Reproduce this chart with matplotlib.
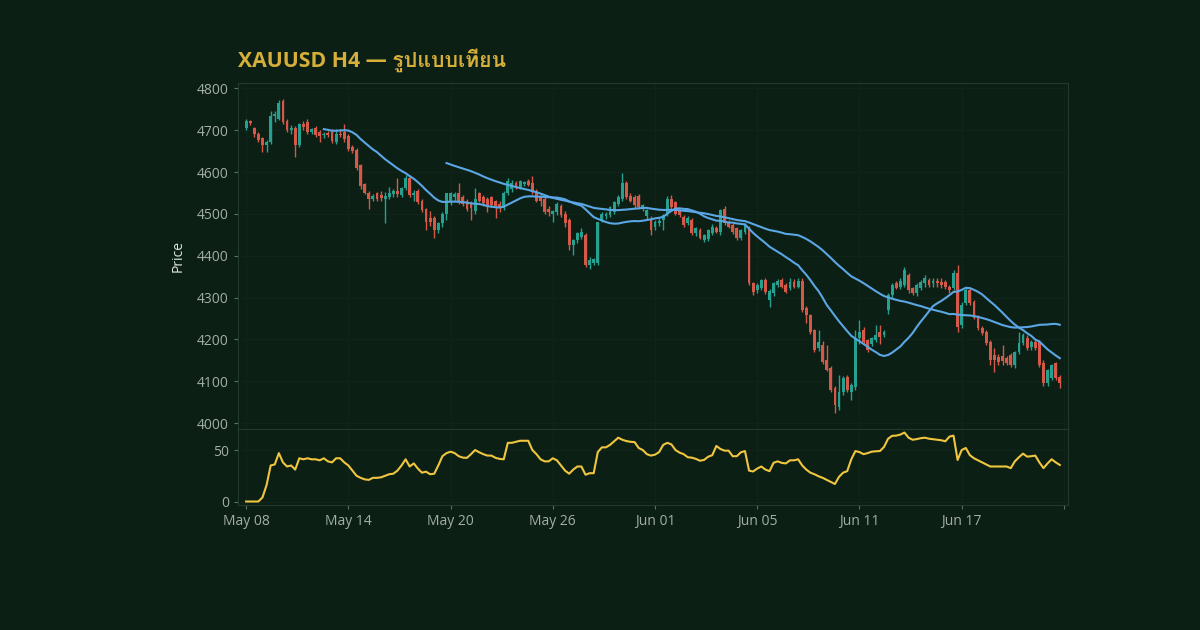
import matplotlib

matplotlib.use("Agg")
import matplotlib.pyplot as plt
import numpy as np
import pandas as pd
from matplotlib import font_manager
from matplotlib.ft2font import FT2Font

# H4 bars, index 0 = first bar of May 08
OPEN = [4705, 4722, 4705, 4692, 4681, 4664, 4673, 4734, 4728, 4771,
        4723, 4700, 4705, 4664, 4714, 4719, 4695, 4705, 4695, 4688,
        4694, 4697, 4672, 4692, 4696, 4687, 4660, 4654, 4616, 4571,
        4551, 4537, 4549, 4545, 4536, 4540, 4548, 4556, 4545, 4561,
        4585, 4545, 4556, 4532, 4511, 4490, 4490, 4461, 4478, 4501,
        4528, 4540, 4549, 4540, 4532, 4525, 4506, 4549, 4540, 4535,
        4540, 4530, 4525, 4515, 4550, 4560, 4574, 4565, 4572, 4578,
        4573, 4556, 4540, 4537, 4512, 4500, 4504, 4520, 4501, 4485,
        4425, 4437, 4446, 4449, 4378, 4382, 4384, 4485, 4495, 4497,
        4504, 4525, 4537, 4573, 4544, 4540, 4544, 4514, 4494, 4485,
        4470, 4478, 4485, 4500, 4537, 4528, 4509, 4492, 4478, 4485,
        4454, 4461, 4437, 4440, 4454, 4466, 4456, 4513, 4478, 4473,
        4466, 4442, 4456, 4466, 4334, 4318, 4322, 4342, 4294, 4310,
        4330, 4342, 4330, 4322, 4337, 4325, 4341, 4275, 4258, 4222,
        4180, 4186, 4150, 4131, 4084, 4038, 4074, 4110, 4075, 4086,
        4203, 4222, 4198, 4190, 4198, 4217, 4210, 4270, 4306, 4334,
        4325, 4330, 4353, 4322, 4310, 4322, 4335, 4342, 4334, 4339,
        4337, 4337, 4325, 4322, 4358, 4234, 4287, 4318, 4289, 4253,
        4227, 4217, 4193, 4162, 4158, 4160, 4155, 4162, 4138, 4169,
        4191, 4203, 4181, 4193, 4193, 4145, 4096, 4107, 4143, 4110]
HIGH = [4726, 4725, 4708, 4695, 4684, 4676, 4747, 4745, 4773, 4776,
        4728, 4712, 4710, 4718, 4722, 4727, 4706, 4710, 4700, 4696,
        4698, 4702, 4702, 4702, 4716, 4692, 4664, 4658, 4620, 4574,
        4556, 4548, 4552, 4556, 4552, 4565, 4560, 4585, 4565, 4592,
        4592, 4558, 4560, 4536, 4515, 4506, 4494, 4482, 4504, 4551,
        4552, 4552, 4573, 4545, 4537, 4530, 4561, 4553, 4545, 4540,
        4544, 4534, 4530, 4555, 4585, 4582, 4580, 4582, 4580, 4583,
        4590, 4560, 4545, 4540, 4518, 4510, 4528, 4525, 4508, 4490,
        4440, 4458, 4466, 4455, 4398, 4395, 4482, 4505, 4504, 4520,
        4532, 4545, 4597, 4580, 4550, 4545, 4548, 4525, 4512, 4495,
        4485, 4490, 4500, 4542, 4545, 4532, 4512, 4497, 4496, 4490,
        4470, 4466, 4452, 4465, 4475, 4472, 4512, 4518, 4485, 4478,
        4470, 4465, 4478, 4472, 4338, 4335, 4345, 4348, 4320, 4338,
        4345, 4348, 4335, 4346, 4345, 4346, 4346, 4280, 4262, 4226,
        4222, 4196, 4186, 4136, 4090, 4115, 4112, 4115, 4095, 4222,
        4246, 4230, 4202, 4205, 4234, 4234, 4222, 4310, 4335, 4340,
        4346, 4373, 4360, 4326, 4335, 4342, 4353, 4348, 4346, 4346,
        4346, 4342, 4330, 4365, 4377, 4290, 4322, 4325, 4294, 4258,
        4232, 4222, 4198, 4180, 4165, 4186, 4160, 4168, 4172, 4217,
        4215, 4210, 4198, 4198, 4198, 4150, 4130, 4142, 4147, 4115]
LOW = [4700, 4712, 4685, 4672, 4648, 4648, 4668, 4720, 4725, 4715,
       4695, 4690, 4636, 4660, 4700, 4690, 4690, 4684, 4672, 4682,
       4684, 4670, 4668, 4684, 4672, 4650, 4646, 4606, 4560, 4548,
       4513, 4530, 4532, 4530, 4478, 4535, 4540, 4540, 4540, 4558,
       4540, 4532, 4524, 4505, 4461, 4472, 4442, 4455, 4470, 4485,
       4522, 4530, 4524, 4520, 4508, 4485, 4500, 4528, 4520, 4505,
       4516, 4490, 4505, 4510, 4545, 4552, 4560, 4560, 4566, 4566,
       4548, 4528, 4520, 4500, 4496, 4482, 4498, 4493, 4470, 4415,
       4401, 4430, 4440, 4373, 4368, 4377, 4377, 4480, 4488, 4492,
       4500, 4520, 4532, 4535, 4528, 4515, 4512, 4508, 4488, 4449,
       4462, 4472, 4461, 4496, 4510, 4498, 4492, 4470, 4474, 4450,
       4448, 4440, 4432, 4436, 4450, 4455, 4450, 4474, 4466, 4452,
       4438, 4438, 4452, 4330, 4306, 4312, 4318, 4308, 4278, 4305,
       4325, 4322, 4310, 4318, 4322, 4322, 4266, 4239, 4212, 4170,
       4172, 4142, 4124, 4075, 4024, 4032, 4068, 4075, 4055, 4080,
       4190, 4190, 4170, 4185, 4194, 4190, 4205, 4262, 4300, 4320,
       4320, 4325, 4312, 4306, 4305, 4318, 4325, 4325, 4325, 4325,
       4322, 4320, 4312, 4318, 4217, 4228, 4282, 4282, 4248, 4222,
       4210, 4186, 4139, 4122, 4140, 4140, 4138, 4134, 4132, 4165,
       4186, 4175, 4175, 4175, 4134, 4090, 4090, 4102, 4102, 4084]
CLOSE = [4722, 4718, 4690, 4676, 4666, 4672, 4734, 4738, 4766, 4719,
         4700, 4706, 4664, 4714, 4708, 4695, 4702, 4688, 4686, 4692,
         4688, 4675, 4690, 4688, 4680, 4656, 4650, 4611, 4568, 4551,
         4537, 4543, 4537, 4538, 4542, 4550, 4554, 4548, 4561, 4585,
         4545, 4550, 4528, 4509, 4480, 4480, 4461, 4478, 4501, 4549,
         4549, 4547, 4530, 4523, 4513, 4515, 4537, 4532, 4527, 4520,
         4522, 4520, 4515, 4550, 4578, 4574, 4566, 4578, 4576, 4570,
         4552, 4532, 4530, 4504, 4505, 4508, 4525, 4497, 4478, 4425,
         4437, 4454, 4457, 4377, 4389, 4392, 4480, 4501, 4501, 4516,
         4528, 4540, 4573, 4540, 4532, 4521, 4516, 4521, 4509, 4461,
         4481, 4484, 4497, 4537, 4516, 4501, 4497, 4473, 4490, 4454,
         4466, 4442, 4449, 4461, 4468, 4458, 4509, 4478, 4470, 4456,
         4442, 4461, 4473, 4334, 4313, 4330, 4342, 4313, 4316, 4334,
         4341, 4325, 4313, 4337, 4325, 4339, 4270, 4258, 4217, 4174,
         4195, 4146, 4127, 4079, 4043, 4074, 4107, 4079, 4091, 4203,
         4217, 4193, 4174, 4203, 4210, 4205, 4217, 4306, 4330, 4323,
         4341, 4365, 4318, 4310, 4330, 4337, 4346, 4330, 4341, 4334,
         4330, 4325, 4318, 4360, 4229, 4282, 4318, 4287, 4251, 4227,
         4215, 4191, 4150, 4150, 4146, 4148, 4143, 4138, 4169, 4191,
         4210, 4179, 4193, 4180, 4138, 4096, 4127, 4138, 4107, 4096]

# oscillator shown in the lower panel
OSC = [0, 0, 0, 0, 4, 16, 35, 36, 47, 38,
       34, 35, 31, 42, 41, 42, 41, 41, 40, 42,
       39, 38, 42, 42, 38, 35, 30, 25, 23, 21.5,
       21, 23, 23, 23.5, 25, 26.5, 27, 30, 35, 41,
       34, 37, 32, 28, 29, 26.5, 27, 35, 44, 47,
       48.4, 47, 44, 42.6, 42.4, 46, 50, 47.8, 46, 44.6,
       44.6, 42.4, 41.4, 41, 57, 57, 58, 59, 59, 59,
       50, 46, 41, 39, 39, 42, 40, 35, 30, 27,
       31, 34, 34, 26, 27.5, 27.5, 48, 52.6, 52.6, 55,
       58.5, 62, 60, 58.7, 58, 57.7, 52, 50, 46, 44.6,
       45.5, 48, 55, 57, 55.5, 50, 47.5, 46, 43, 42.6,
       41.4, 39.6, 40.4, 43.5, 45, 54, 51, 49.4, 49.4, 44,
       44, 47.8, 49, 30, 29.2, 32, 34, 31, 29.5, 37.6,
       39, 37.5, 37, 40, 40, 41, 35, 31, 28, 26.5,
       24.5, 23, 21, 19, 17, 24, 28, 29.5, 41, 49,
       48, 46, 47, 48.4, 48.8, 49, 53, 61, 63.8, 64,
       65, 67, 62, 60, 60.6, 61.5, 62, 61, 60.5, 60,
       59.5, 58.5, 63, 64, 40.4, 50, 52, 45, 42, 40,
       38, 36, 34, 34, 34, 34, 34, 32.4, 39, 43,
       46.5, 43.6, 44, 44.6, 38, 32.4, 37, 41, 38, 35.5]

TICK_LABELS = ["May 08", "May 14", "May 20", "May 26", "Jun 01",
               "Jun 05", "Jun 11", "Jun 17", ""]
TICK_STEP = 25
TITLE = "XAUUSD H4 — รูปแบบเทียน"

BG = "#0b1f14"
UP = "#26a08f"
DOWN = "#d65849"
MA_COLOR = "#5ba6e4"
OSC_COLOR = "#f0c640"
TICK_COLOR = "#a3aea8"
SPINE = "#22392e"


def pick_thai_font():
    # look for any installed face that can draw Thai
    for f in font_manager.fontManager.ttflist:
        try:
            cmap = FT2Font(f.fname).get_charmap()
        except Exception:
            continue
        if 0x0E23 in cmap and 0x0E40 in cmap:
            return f.name
    return None


thai = pick_thai_font()
families = ["Open Sans"] + ([thai] if thai else []) + ["DejaVu Sans"]
plt.rcParams["font.family"] = families

df = pd.DataFrame({"open": OPEN, "high": HIGH, "low": LOW, "close": CLOSE})
x = np.arange(len(df))
sma20 = df["close"].rolling(20).mean()
sma50 = df["close"].rolling(50).mean()

fig = plt.figure(figsize=(12, 6.3), dpi=100, facecolor=BG)
ax = fig.add_axes([0.1983, 0.3190, 0.6917, 0.5492], facecolor=BG)
ax2 = fig.add_axes([0.1983, 0.1984, 0.6917, 0.1206], facecolor=BG, sharex=ax)

up = df["close"] >= df["open"]
colors = np.where(up, UP, DOWN)
ax.vlines(x, df["low"], df["high"], colors=colors, linewidth=1.0, zorder=2)
body_lo = np.minimum(df["open"], df["close"])
body_h = np.maximum((df["close"] - df["open"]).abs(), 1.5)
ax.bar(x, body_h, bottom=body_lo, width=0.7, color=colors, linewidth=0, zorder=3)

ax.plot(x, sma20, color=MA_COLOR, linewidth=1.5, zorder=4)
ax.plot(x, sma50, color=MA_COLOR, linewidth=1.5, zorder=4)

ax2.plot(x, OSC, color=OSC_COLOR, linewidth=1.5)

ax.set_xlim(-2, 201)
ax.set_ylim(3986, 4813)
ax.set_yticks(range(4000, 4801, 100))
ax2.set_ylim(-3.4, 70.4)
ax2.set_yticks([0, 50])

ticks = [i * TICK_STEP for i in range(len(TICK_LABELS))]
ax2.set_xticks(ticks)
ax2.set_xticklabels(TICK_LABELS)
ax.tick_params(axis="x", labelbottom=False, length=0)

for a in (ax, ax2):
    a.tick_params(colors="#5f7068", labelcolor=TICK_COLOR, labelsize=10, length=3, width=0.8)
    for s in a.spines.values():
        s.set_color(SPINE)
        s.set_linewidth(0.8)
    a.grid(True, color="#11251a", linewidth=0.6)
    a.set_axisbelow(True)

fig.text(178 / 1200, 1 - 256 / 630, "Price", rotation=90, color="#dfe6e2",
         fontsize=10, ha="center", va="center")
fig.text(238 / 1200, 1 - 60 / 630, TITLE, color="#d6ae3a", fontsize=15.3,
         fontweight="bold", ha="left", va="center")

fig.savefig("out.png", dpi=100, facecolor=BG)
